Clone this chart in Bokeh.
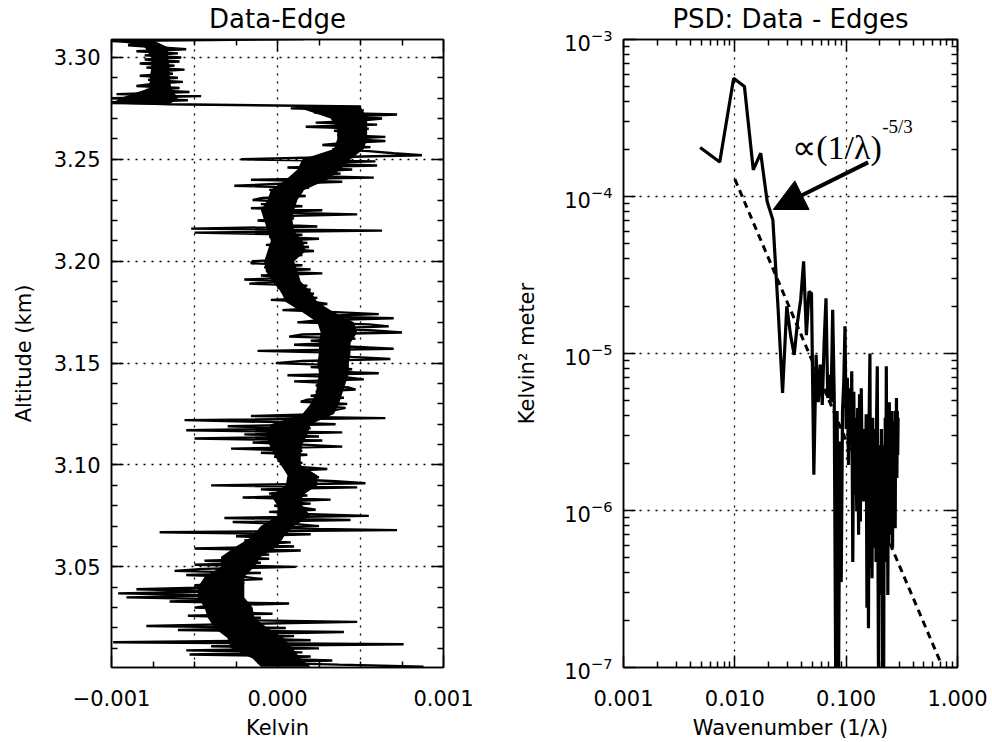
import numpy as np
from bokeh.plotting import figure
from bokeh.models import (Range1d, FixedTicker, LinearAxis, LogAxis, Label, Arrow,
                          NormalHead, PrintfTickFormatter, LogTickFormatter)
from bokeh.layouts import row
from bokeh.embed import file_html
from bokeh.resources import INLINE

FONT = "DejaVu Sans"

# ---------------- Left panel: Data-Edge profile ----------------
# temperature residual in units of 1e-4 K, from the top altitude (3.309 km) downward, 1 m steps
alt_top_km = 3.309
alt_step_km = 0.001
kelvin_e4 = [
    1.6, -10.0, -7.6, -9.0, -7.2, -5.5, -8.5, -6.0, -8.0, -5.8,
    -8.0, -5.9, -8.3, -6.2, -7.9, -5.6, -7.6, -6.3, -8.3, -6.0,
    -7.8, -5.7, -7.5, -8.5, -5.9, -7.9, -5.3, -9.7, -4.6, -10.0,
    -5.4, -10.0, -6.5, 5.0, 0.8, 5.2, 2.2, 7.2, 4.2, 6.3,
    5.0, 2.3, 6.0, 1.7, 5.5, 3.4, 5.2, 3.6, 6.5, 3.8,
    6.5, 4.0, 2.7, 5.6, 3.3, 5.5, 7.0, 8.7, 3.0, -2.2,
    5.9, 1.5, 6.0, 0.6, 4.5, 1.8, 3.8, 1.2, 5.8, -1.6,
    3.9, 0.2, -2.6, 1.9, -0.5, 1.5, -0.3, 1.7, -0.9, -1.5,
    1.0, -1.0, 1.5, -1.6, 2.7, -0.8, 4.8, -0.4, 1.0, -1.2,
    0.8, -0.6, 2.4, -5.2, 6.3, -5.0, 1.5, -0.5, 2.5, -0.2,
    1.8, -0.7, 1.9, 0.2, 2.2, -0.3, 1.5, -0.5, 1.0, -1.5,
    -1.6, 1.5, -0.8, 2.0, -0.5, 2.7, -1.0, 1.3, -2.0, 1.0,
    -1.7, 1.8, 0.0, 2.0, 0.2, 2.2, 0.4, 2.4, -0.4, 2.2,
    3.0, 1.0, 2.5, 0.3, 3.5, 6.1, 2.0, 7.0, 2.5, 1.2,
    5.5, 6.7, 2.8, 5.8, 7.5, 1.5, 0.7, 4.7, 2.0, 3.8,
    1.0, 4.5, 7.0, -1.2, 4.0, 2.5, 4.5, 6.8, 1.5, -0.1,
    3.5, 2.0, 4.5, 2.5, 6.1, 0.6, 4.2, 5.2, 1.0, 3.8,
    2.3, 4.3, 4.7, 2.3, 3.5, 2.0, 4.0, 1.8, 1.4, 4.2,
    2.5, 4.1, 3.5, 1.8, 3.0, -1.6, 6.5, -5.6, 0.0, 3.5,
    -3.0, 2.0, -5.5, 3.9, -2.0, 2.5, -5.0, 2.7, -1.5, 1.5,
    3.9, -2.8, 1.5, -1.0, 1.8, -0.2, 1.3, 0.0, 1.5, 0.5,
    1.3, 3.0, 0.5, 2.0, 0.8, 2.5, 1.0, 3.5, 5.3, -4.0,
    4.8, -1.0, 1.5, -0.5, 1.8, -2.1, 3.2, 0.0, 2.0, -0.2,
    1.5, 2.3, -0.5, 1.5, 5.5, -3.2, 4.4, -2.7, 1.0, 2.5,
    -0.5, 7.2, -7.1, 2.0, -2.5, 0.3, -2.0, 0.8, -1.5, 1.0,
    -5.0, 1.4, -2.5, -0.5, -3.0, -0.5, -4.4, -1.0, -5.0, 1.1,
    -4.5, -6.2, -1.0, -5.5, -2.0, -0.9, -4.0, -2.0, -5.0, -3.5,
    -8.5, -3.3, -9.6, -3.5, -9.1, -2.5, -6.5, 0.7, -4.0, -5.0,
    -1.5, -4.0, -0.3, -5.4, -1.0, -3.5, 4.8, -2.0, -7.9, 0.5,
    -6.0, 4.0, -2.0, 1.0, -3.0, 2.0, -9.9, 7.6, -4.0, 2.5,
    -5.5, 1.5, -5.3, 2.0, -1.0, 3.3, -1.2, 3.7, 8.8,
]
altitude_km = np.round(alt_top_km - alt_step_km * np.arange(len(kelvin_e4)), 3)
kelvin = np.array(kelvin_e4) * 1e-4

# dense core of the trace (where the samples overlap into solid black), 1e-4 K
core_alt_km = [3.3088, 3.305, 3.300, 3.295, 3.290, 3.285, 3.280, 3.277, 3.276, 3.270,
               3.265, 3.260, 3.255, 3.250, 3.245, 3.240, 3.235, 3.230, 3.225, 3.220,
               3.215, 3.210, 3.205, 3.200, 3.195, 3.190, 3.185, 3.180, 3.175, 3.170,
               3.165, 3.160, 3.155, 3.150, 3.145, 3.140, 3.135, 3.130, 3.125, 3.120,
               3.115, 3.110, 3.105, 3.100, 3.095, 3.090, 3.085, 3.080, 3.075, 3.070,
               3.065, 3.060, 3.055, 3.050, 3.045, 3.040, 3.035, 3.030, 3.025, 3.020,
               3.015, 3.010, 3.005, 3.001]
core_left_e4 = [-10.0, -8.0, -7.6, -7.6, -7.7, -7.7, -9.5, -10.0, 1.0, 3.2,
                3.6, 3.6, 3.4, 1.5, 1.2, 0.5, -0.4, -0.6, -1.0, -0.8,
                -0.6, -0.4, -0.6, -0.8, -0.7, -0.3, 0.2, 0.5, 1.5, 2.4,
                2.6, 2.5, 2.5, 2.4, 2.5, 2.4, 2.3, 2.0, 1.5, -0.4,
                -0.7, -0.5, -0.2, 0.2, 0.6, 0.5, -0.4, 0.0, 0.0, -1.0,
                -1.5, -2.5, -3.4, -3.4, -4.4, -4.8, -4.8, -4.4, -4.2, -3.8,
                -3.0, -2.8, -1.5, -1.0]
core_right_e4 = [-7.6, -6.6, -6.6, -6.5, -6.5, -6.4, -6.0, -6.5, 5.0, 5.4,
                 5.4, 5.4, 5.2, 4.4, 3.8, 3.0, 1.6, 1.2, 1.0, 0.9,
                 1.0, 1.5, 1.7, 1.0, 1.2, 1.4, 2.0, 2.4, 3.4, 4.6,
                 4.8, 4.4, 4.4, 4.3, 4.3, 4.1, 3.9, 3.7, 3.4, 2.0,
                 1.8, 1.5, 1.4, 1.4, 2.4, 2.4, 1.5, 1.5, 2.0, 1.0,
                 0.4, 0.0, -1.0, -1.4, -2.0, -2.0, -2.0, -1.5, -1.4, -0.6,
                 0.4, 0.9, 1.4, 2.0]
core_left = np.array(core_left_e4) * 1e-4
core_right = np.array(core_right_e4) * 1e-4

left_x_ticks = [-0.001, 0.0, 0.001]
left_x_minor = [-0.00075, -0.0005, -0.00025, 0.00025, 0.0005, 0.00075]
left_x_grid = [-0.0005, 0.0, 0.0005]
left_x_labels = {-0.001: "\u22120.001", 0.0: "0.000", 0.001: "0.001"}
left_y_ticks = [3.05, 3.10, 3.15, 3.20, 3.25, 3.30]
left_y_minor = [round(3.01 + 0.01 * i, 2) for i in range(30)]

# ---------------- Right panel: PSD ----------------
wavenumber = [
    0.00488, 0.00732, 0.00976, 0.0122, 0.01464, 0.01708, 0.01952, 0.02196, 0.0244, 0.02684,
    0.02928, 0.03172, 0.03416, 0.0366, 0.03904, 0.04148, 0.04392, 0.04636, 0.0488, 0.05124,
    0.05368, 0.05612, 0.05856, 0.061, 0.06344, 0.06588, 0.06832, 0.07076, 0.0732, 0.07564,
    0.07808, 0.08052, 0.08296, 0.0854, 0.08784, 0.09028, 0.09272, 0.09516, 0.0976, 0.10004,
    0.10248, 0.10492, 0.10736, 0.1098, 0.11224, 0.11468, 0.11712, 0.11956, 0.122, 0.12444,
    0.12688, 0.12932, 0.13176, 0.1342, 0.13664, 0.13908, 0.14152, 0.14396, 0.1464, 0.14884,
    0.15128, 0.15372, 0.15616, 0.1586, 0.16104, 0.16348, 0.16592, 0.16836, 0.1708, 0.17324,
    0.17568, 0.17812, 0.18056, 0.183, 0.18544, 0.18788, 0.19032, 0.19276, 0.1952, 0.19764,
    0.20008, 0.20252, 0.20496, 0.2074, 0.20984, 0.21228, 0.21472, 0.21716, 0.2196, 0.22204,
    0.22448, 0.22692, 0.22936, 0.2318, 0.23424, 0.23668, 0.23912, 0.24156, 0.244, 0.24644,
    0.24888, 0.25132, 0.25376, 0.2562, 0.25864, 0.26108, 0.26352, 0.26596, 0.2684, 0.27084,
    0.27328, 0.27572, 0.27816, 0.2806, 0.28304, 0.28548, 0.28792, 0.29036, 0.2928,
]
psd = [
    2.05e-4, 1.66e-4, 5.67e-4, 5.02e-4, 1.48e-4, 1.89e-4, 9.3e-5, 7.1e-5, 2.0e-5, 5.6e-6,
    2.0e-5, 1.3e-5, 9.8e-6, 1.6e-5, 2.2e-5, 3.86e-5, 1.31e-5, 2.48e-5, 2.42e-5, 1.69e-6,
    9.8e-6, 4.9e-6, 8.5e-6, 4.7e-6, 1.19e-5, 2.25e-5, 5.2e-6, 7.3e-6, 4.9e-6, 1.9e-5,
    5.5e-6, 8.6e-8, 4.3e-6, 7.4e-8, 2.75e-6, 3.5e-7, 4.3e-6, 6.6e-6, 1.49e-5, 3.3e-6,
    7.0e-6, 1.95e-6, 6.0e-6, 2.6e-6, 7.7e-6, 4.7e-7, 5.7e-6, 1.26e-6, 3.9e-6, 9.9e-7,
    4.5e-6, 7.0e-7, 5.5e-6, 8.5e-7, 6.0e-6, 2.05e-6, 3.3e-6, 1.14e-6, 2.6e-6, 1.39e-6,
    4.1e-6, 2.4e-7, 3.0e-6, 1.78e-7, 4.3e-6, 1.0e-5, 4.3e-7, 3.3e-6, 3.7e-7, 3.9e-6,
    5.8e-7, 2.9e-6, 8.5e-7, 3.3e-6, 4.7e-7, 4.3e-6, 8.3e-6, 7.7e-7, 7.4e-8, 2.05e-6,
    2.9e-7, 2.6e-6, 6.0e-7, 3.3e-6, 9.9e-7, 7.4e-8, 1.61e-6, 7.0e-8, 2.6e-6, 7.7e-7,
    3.9e-6, 4.7e-7, 8.3e-6, 9.9e-7, 3.3e-6, 2.9e-7, 2.05e-6, 6.0e-7, 4.9e-6, 8.5e-7,
    2.6e-6, 7.0e-7, 3.3e-6, 1.26e-6, 4.3e-6, 5.8e-7, 2.9e-6, 9.9e-7, 3.7e-6, 1.39e-6,
    2.6e-6, 7.7e-7, 4.3e-6, 2.05e-6, 5.2e-6, 1.61e-6, 4.3e-6, 2.26e-6, 3.9e-6,
]
# -5/3 reference slope (two end points of the dashed straight line)
fit_x = [0.01, 0.72]
fit_y = [1.29e-4, 1.04e-7]

psd_x_ticks = [0.001, 0.01, 0.1, 1.0]
psd_x_minor = [m * 10.0 ** e for e in range(-3, 0) for m in range(2, 10)]
psd_x_grid = [0.01, 0.1]
psd_y_ticks = [1e-7, 1e-6, 1e-5, 1e-4, 1e-3]
psd_y_minor = [m * 10.0 ** e for e in range(-7, -3) for m in range(2, 10)]
psd_y_grid = [1e-6, 1e-5, 1e-4]


def style_axis(ax, ticks, minor, show_labels=True):
    ax.ticker = FixedTicker(ticks=ticks, minor_ticks=minor)
    ax.major_tick_in = 12
    ax.major_tick_out = 0
    ax.minor_tick_in = 6
    ax.minor_tick_out = 0
    ax.major_tick_line_color = "black"
    ax.minor_tick_line_color = "black"
    ax.major_tick_line_width = 1.5
    ax.minor_tick_line_width = 1.5
    ax.axis_line_color = "black"
    ax.axis_line_width = 1.5
    ax.major_label_text_font = FONT
    ax.major_label_text_font_size = "21px"
    ax.major_label_text_color = "black"
    ax.axis_label_text_font = FONT
    ax.axis_label_text_font_style = "normal"
    ax.axis_label_text_color = "black"
    ax.axis_label_text_font_size = "21px"
    if not show_labels:
        ax.major_label_overrides = {t: "" for t in ticks}
        ax.major_label_text_font_size = "1px"
        ax.major_label_standoff = 0


def style_grid(g, ticks):
    g.ticker = FixedTicker(ticks=ticks)
    g.grid_line_color = "black"
    g.grid_line_dash = "2 6"
    g.grid_line_width = 1.3


def new_fig(width, border_left, border_right, **kw):
    p = figure(width=width, height=742, output_backend="svg", toolbar_location=None,
               min_border_left=border_left, min_border_right=border_right,
               min_border_top=38, min_border_bottom=75, **kw)
    p.outline_line_color = "black"
    p.outline_line_width = 1.5
    p.background_fill_color = "white"
    p.border_fill_color = "white"
    return p


# ---------- figure 1 ----------
p1 = new_fig(510, 111, 67, x_range=Range1d(-0.001, 0.001), y_range=Range1d(3.0006, 3.3088))

style_axis(p1.xaxis[0], left_x_ticks, left_x_minor)
p1.xaxis[0].formatter = PrintfTickFormatter(format="%.3f")
p1.xaxis[0].major_label_overrides = left_x_labels
p1.xaxis[0].major_label_standoff = 22
p1.xaxis[0].axis_label = "Kelvin"
p1.xaxis[0].axis_label_standoff = 7
style_axis(p1.yaxis[0], left_y_ticks, left_y_minor)
p1.yaxis[0].formatter = PrintfTickFormatter(format="%.2f")
p1.yaxis[0].major_label_standoff = 11
p1.yaxis[0].axis_label = "Altitude (km)"
p1.yaxis[0].axis_label_standoff = 15
top1 = LinearAxis()
style_axis(top1, left_x_ticks, left_x_minor, show_labels=False)
top1.axis_label = "Data-Edge"
top1.axis_label_text_font_size = "26px"
top1.axis_label_standoff = 6
p1.add_layout(top1, "above")
right1 = LinearAxis()
style_axis(right1, left_y_ticks, left_y_minor, show_labels=False)
p1.add_layout(right1, "right")
style_grid(p1.xgrid[0], left_x_grid)
style_grid(p1.ygrid[0], left_y_ticks)

p1.harea(x1=core_left, x2=core_right, y=core_alt_km, fill_color="black")
p1.line(kelvin, altitude_km, line_color="black", line_width=2.4)

# ---------- figure 2 ----------
p2 = new_fig(482, 113, 35, x_axis_type="log", y_axis_type="log",
             x_range=Range1d(0.001, 1.0), y_range=Range1d(1e-7, 1e-3))

style_axis(p2.xaxis[0], psd_x_ticks, psd_x_minor)
p2.xaxis[0].formatter = PrintfTickFormatter(format="%.3f")
p2.xaxis[0].major_label_standoff = 22
p2.xaxis[0].axis_label = "Wavenumber (1/\u03bb)"
p2.xaxis[0].axis_label_standoff = 7
style_axis(p2.yaxis[0], psd_y_ticks, psd_y_minor)
p2.yaxis[0].formatter = LogTickFormatter()
p2.yaxis[0].major_label_standoff = 11
p2.yaxis[0].axis_label = "Kelvin\u00b2 meter"
p2.yaxis[0].axis_label_standoff = 22
top2 = LogAxis()
style_axis(top2, psd_x_ticks, psd_x_minor, show_labels=False)
top2.formatter = PrintfTickFormatter(format="%g")
top2.axis_label = "PSD: Data - Edges"
top2.axis_label_text_font_size = "26px"
top2.axis_label_standoff = 6
p2.add_layout(top2, "above")
right2 = LogAxis()
style_axis(right2, psd_y_ticks, psd_y_minor, show_labels=False)
right2.formatter = PrintfTickFormatter(format="%g")
p2.add_layout(right2, "right")
style_grid(p2.xgrid[0], psd_x_grid)
style_grid(p2.ygrid[0], psd_y_grid)

p2.line(fit_x, fit_y, line_color="black", line_width=3, line_dash="7 5")
p2.line(wavenumber, psd, line_color="black", line_width=3.2)

# annotation
p2.add_layout(Arrow(end=NormalHead(size=32, fill_color="black", line_color="black"),
                    x_start=0.1575, y_start=1.65e-4, x_end=0.02215, y_end=8.27e-5,
                    line_color="black", line_width=4))
p2.add_layout(Label(x=0.0328, y=2.04e-4, text="\u221d(1/\u03bb)", text_align="left",
                    text_baseline="alphabetic", text_font="Liberation Serif",
                    text_font_size="34px", text_color="black"))
p2.add_layout(Label(x=0.2104, y=2.79e-4, text="-5/3", text_align="left",
                    text_baseline="alphabetic", text_font="Liberation Serif",
                    text_font_size="19px", text_color="black"))

layout = row(p1, p2)
open("out.html", "w").write(file_html(layout, INLINE))
